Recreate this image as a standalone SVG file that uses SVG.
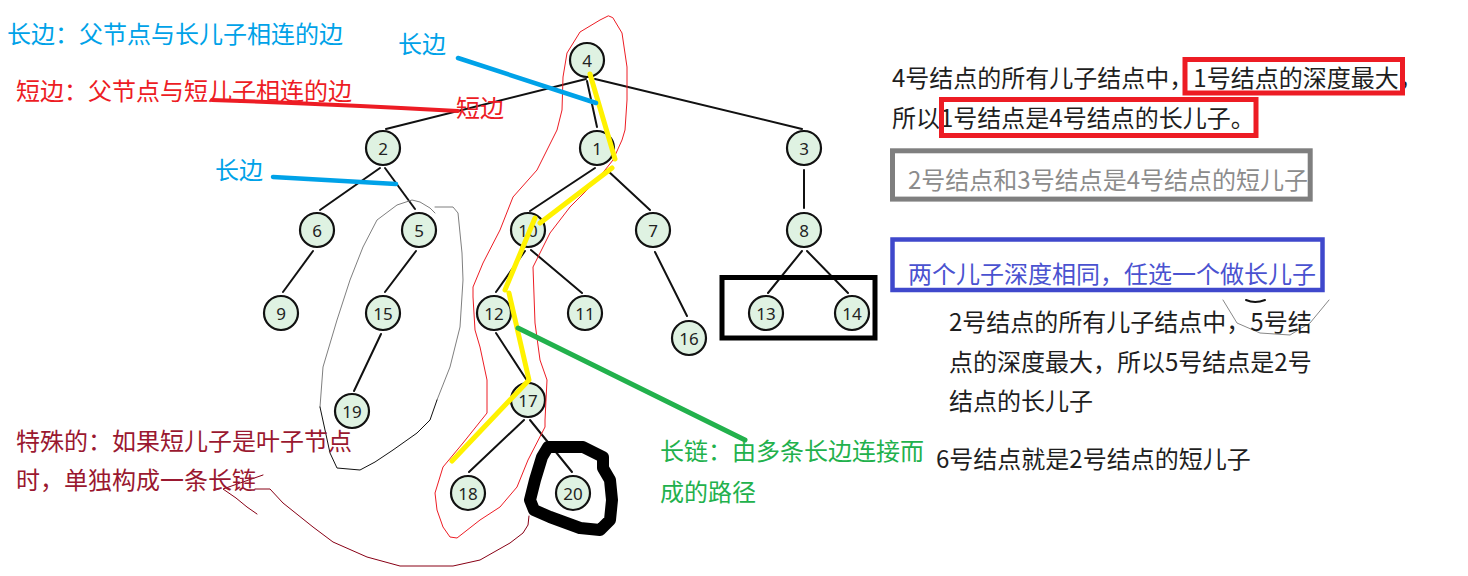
<svg xmlns="http://www.w3.org/2000/svg" width="1468" height="576" viewBox="0 0 1468 576">
<style>
.n circle{fill:#dff2e2;stroke:#111;stroke-width:2.2}
.n text{font-family:"Noto Sans","Liberation Sans",sans-serif;font-size:17px;fill:#222;text-anchor:middle;dominant-baseline:central}
.e line{stroke:#111;stroke-width:2;stroke-linecap:round}
.t{font-family:"Noto Sans CJK SC","Noto Sans",sans-serif;font-size:24px}
.hand{fill:none;stroke-linejoin:round;stroke-linecap:round}
</style>
<rect width="1468" height="576" fill="#fff"/>
<g id="connectors" class="e">
<line x1="586" y1="79" x2="386" y2="129"/>
<line x1="587" y1="81" x2="597" y2="127"/>
<line x1="595" y1="79" x2="802" y2="129"/>
<line x1="380" y1="168" x2="320" y2="210"/>
<line x1="385" y1="168" x2="415" y2="209"/>
<line x1="595" y1="168" x2="530" y2="211"/>
<line x1="607" y1="170" x2="650" y2="210"/>
<line x1="804" y1="170" x2="804" y2="208"/>
<line x1="313" y1="251" x2="283" y2="292"/>
<line x1="416" y1="251" x2="385" y2="292"/>
<line x1="525" y1="251" x2="496" y2="292"/>
<line x1="531" y1="250" x2="582" y2="293"/>
<line x1="655" y1="252" x2="687" y2="316"/>
<line x1="802" y1="251" x2="768" y2="293"/>
<line x1="807" y1="251" x2="848" y2="293"/>
<line x1="381" y1="334" x2="354" y2="391"/>
<line x1="496" y1="333" x2="526" y2="379"/>
<line x1="524" y1="420" x2="469" y2="472"/>
<line x1="530" y1="420" x2="572" y2="472"/>
</g>
<g id="node-4" class="n"><circle cx="587" cy="60" r="17"/><text x="587" y="60">4</text></g>
<g id="node-2" class="n"><circle cx="383" cy="148" r="17"/><text x="383" y="148">2</text></g>
<g id="node-1" class="n"><circle cx="597" cy="148" r="17"/><text x="597" y="148">1</text></g>
<g id="node-3" class="n"><circle cx="804" cy="148" r="17"/><text x="804" y="148">3</text></g>
<g id="node-6" class="n"><circle cx="317" cy="230" r="17"/><text x="317" y="230">6</text></g>
<g id="node-5" class="n"><circle cx="419" cy="230" r="17"/><text x="419" y="230">5</text></g>
<g id="node-10" class="n"><circle cx="528" cy="230" r="17"/><text x="528" y="230">10</text></g>
<g id="node-7" class="n"><circle cx="653" cy="230" r="17"/><text x="653" y="230">7</text></g>
<g id="node-8" class="n"><circle cx="804" cy="230" r="17"/><text x="804" y="230">8</text></g>
<g id="node-9" class="n"><circle cx="281" cy="313" r="17"/><text x="281" y="313">9</text></g>
<g id="node-15" class="n"><circle cx="383" cy="313" r="17"/><text x="383" y="313">15</text></g>
<g id="node-12" class="n"><circle cx="494" cy="313" r="17"/><text x="494" y="313">12</text></g>
<g id="node-11" class="n"><circle cx="585" cy="313" r="17"/><text x="585" y="313">11</text></g>
<g id="node-16" class="n"><circle cx="689" cy="338" r="17"/><text x="689" y="338">16</text></g>
<g id="node-13" class="n"><circle cx="766" cy="313" r="17"/><text x="766" y="313">13</text></g>
<g id="node-14" class="n"><circle cx="852" cy="313" r="17"/><text x="852" y="313">14</text></g>
<g id="node-19" class="n"><circle cx="352" cy="411" r="17"/><text x="352" y="411">19</text></g>
<g id="node-17" class="n"><circle cx="528" cy="400" r="17"/><text x="528" y="400">17</text></g>
<g id="node-18" class="n"><circle cx="468" cy="493" r="17"/><text x="468" y="493">18</text></g>
<g id="node-20" class="n"><circle cx="573" cy="493" r="17"/><text x="573" y="493">20</text></g>

<g id="annotations">
<path class="hand" stroke="#ed1c24" stroke-width="1" d="M608,16 L600,20 L580,32 L567,53 L563,77 L562,110 L557,130 L547,150 L537,170 L513,197 L500,230 L483,263 L473,287 L473,297 L475,330 L480,347 L487,380 L487,413 L463,443 L443,467 L435,493 L437,510 L443,527 L450,537 L457,538 L480,520 L500,507 L517,487 L528,460 L545,427 L545,420 L547,380 L540,360 L535,323 L533,267 L543,247 L550,233 L570,207 L597,180 L613,160 L622,140 L625,130 L627,100 L627,67 L622,33 L613,18 Z"/>
<path class="hand" stroke="#7f7f7f" stroke-width="1" d="M320,407 L323,367 L337,320 L350,280 L363,247 L377,220 L397,205 L412,200 L420,202 L430,208 L435,213 M435,207 L453,207 L458,213 L462,253 L463,280 L460,327 L450,367 L437,400"/>
<path class="hand" stroke="#111" stroke-width="1" d="M320,407 L325,430 L330,453 L337,468 L360,470 L375,462 L393,450 L417,433 L430,420 L437,400"/>
<path class="hand" stroke="#880015" stroke-width="1" d="M263,475 L223,489 L236,498 L247,507 L257,514 M255,489 L270,489 L283,503 L313,527 L333,542 L367,557 L400,566 L453,566 L480,560 L510,543 L523,533 L528,525 L529,516"/>
<path class="hand" stroke="#888" stroke-width="1" d="M1223,300 L1237,323 L1260,333 L1290,335 L1310,323 L1329,300"/>
<path class="hand" stroke="#111" stroke-width="2" d="M1246,300 Q1255,304 1265,300"/>
<path class="hand" stroke="#000" stroke-width="12" d="M548,447 L583,447 L603,457 L603,468 L610,480 L612,500 L610,520 L600,530 L580,528 L550,517 L534,510 L530,500 L535,480 L542,457 Z"/>
<rect x="722" y="277.5" width="153" height="60.5" fill="none" stroke="#000" stroke-width="5"/>
<path class="hand" stroke="#fff200" stroke-width="5" stroke-linecap="butt" d="M590,74 L615,159 M612,168 L540,223 M535,218 L505,290 M509,293 L529,380 L452,461"/>
<path class="hand" stroke="#00a2e8" stroke-width="4.5" d="M458,58 L596,103 M273,177 L396,184"/>
<path class="hand" stroke="#ed1c24" stroke-width="4" d="M212,100 Q330,104 458,111"/>
<path class="hand" stroke="#22b14c" stroke-width="5" stroke-linecap="butt" d="M518,328 L745,440"/>
<text class="t" x="7" y="43" fill="#00a2e8">长边：父节点与长儿子相连的边</text>
<text class="t" x="16" y="100" fill="#ed1c24">短边：父节点与短儿子相连的边</text>
<text class="t" x="398" y="53" fill="#00a2e8">长边</text>
<text class="t" x="456" y="117" fill="#ed1c24">短边</text>
<text class="t" x="215" y="179" fill="#00a2e8">长边</text>
<text class="t" x="16" y="450" fill="#9a1830">特殊的：如果短儿子是叶子节点</text>
<text class="t" x="16" y="489" fill="#9a1830">时，单独构成一条长链</text>
<text class="t" x="660" y="460" fill="#22b14c">长链：由多条长边连接而</text>
<text class="t" x="660" y="501" fill="#22b14c">成的路径</text>
<text class="t" x="892" y="87" fill="#1e1e1e">4号结点的所有儿子结点中，1号结点的深度最大，</text>
<text class="t" x="892" y="127" fill="#1e1e1e">所以1号结点是4号结点的长儿子。</text>
<rect x="1185" y="59.5" width="217.5" height="33.5" fill="none" stroke="#ed1c24" stroke-width="5"/>
<rect x="941.5" y="99.5" width="314.5" height="36" fill="none" stroke="#ed1c24" stroke-width="5"/>
<rect x="892.5" y="150.8" width="417.7" height="48.3" fill="none" stroke="#7f7f7f" stroke-width="5"/>
<text class="t" x="908" y="188.5" fill="#8c8c8c">2号结点和3号结点是4号结点的短儿子</text>
<rect x="892.5" y="239.5" width="430" height="50.5" fill="none" stroke="#3f48cc" stroke-width="4.5"/>
<text class="t" x="908" y="283" fill="#4a52d0">两个儿子深度相同，任选一个做长儿子</text>
<text class="t" x="949" y="331" fill="#1e1e1e">2号结点的所有儿子结点中，5号结</text>
<text class="t" x="949" y="371" fill="#1e1e1e">点的深度最大，所以5号结点是2号</text>
<text class="t" x="949" y="410" fill="#1e1e1e">结点的长儿子</text>
<text class="t" x="936" y="468" fill="#1e1e1e">6号结点就是2号结点的短儿子</text>
</g>
</svg>
